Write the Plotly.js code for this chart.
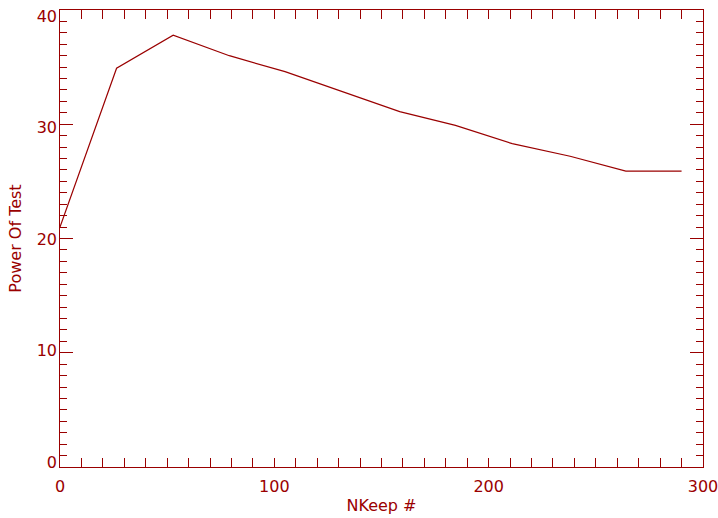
<!DOCTYPE html>
<html>
<head>
<meta charset="utf-8">
<script src="https://cdn.plot.ly/plotly-3.0.1.min.js"></script>
<style>html,body{margin:0;padding:0;background:#fff;}#chart{width:718px;height:518px;}</style>
</head>
<body>
<div id="chart"></div>
<script>
const nkeep = [0, 26.4, 52.8, 79, 105, 132, 158.5, 184.5, 211, 238, 264, 290];
const power = [21, 34.9, 37.8, 36.0, 34.6, 32.8, 31.1, 29.9, 28.3, 27.2, 25.9, 25.9];
const xTickVals = [0, 100, 200, 300];
const xTickText = ["0", "100", "200", "300"];
const yTickVals = [0, 10, 20, 30, 40];
const yTickText = ["0", "10", "20", "30", "40"];
const xTitle = "NKeep #";
const yTitle = "Power Of Test";
const col = "#9a0000";
const fontFam = "DejaVu Sans, Liberation Sans, sans-serif";

const trace = {
  x: nkeep, y: power, type: "scatter", mode: "lines",
  line: {color: col, width: 1.2}, hoverinfo: "skip"
};
// invisible helper trace so the label-only axis is active
const helper = {
  x: [nkeep[0]], y: [power[0]], type: "scatter", mode: "markers", yaxis: "y2",
  marker: {opacity: 0, size: 1}, hoverinfo: "skip", showlegend: false
};

const axisCommon = {
  showgrid: false, zeroline: false, showline: true, linecolor: col, linewidth: 1,
  mirror: "allticks", ticks: "inside", tickcolor: col, tickwidth: 1,
  tickfont: {family: fontFam, size: 16, color: col},
  ticklabeloverflow: "allow",
  fixedrange: true
};

const layout = {
  width: 718, height: 518,
  margin: {l: 60, r: 15, t: 10, b: 51},
  paper_bgcolor: "#fff", plot_bgcolor: "#fff",
  showlegend: false,
  xaxis: Object.assign({}, axisCommon, {
    range: [-0.0001, 300.0001], tickmode: "array", tickvals: xTickVals, ticktext: xTickText, ticklen: 9,
    minor: {dtick: 10, ticks: "inside", ticklen: 5, tickcolor: col, tickwidth: 1},
    ticklabelstandoff: 5,
    title: {text: xTitle, font: {family: fontFam, size: 16, color: col}, standoff: 4}
  }),
  yaxis: Object.assign({}, axisCommon, {
    range: [0, 40], tickvals: yTickVals, showticklabels: false, ticklen: 13,
    minor: {dtick: 1, ticks: "inside", ticklen: 7, tickcolor: col, tickwidth: 1},
    title: {text: yTitle, font: {family: fontFam, size: 16, color: col}, standoff: 33}
  }),
  yaxis2: {
    overlaying: "y", side: "left", range: [-0.4031, 40.5375],
    tickvals: yTickVals, ticktext: yTickText, ticks: "", showline: false,
    showgrid: false, zeroline: false, fixedrange: true,
    tickfont: {family: fontFam, size: 16, color: col}, ticklabelstandoff: 2
  }
};

Plotly.newPlot("chart", [trace, helper], layout, {staticPlot: true, displayModeBar: false});
</script>
</body>
</html>
